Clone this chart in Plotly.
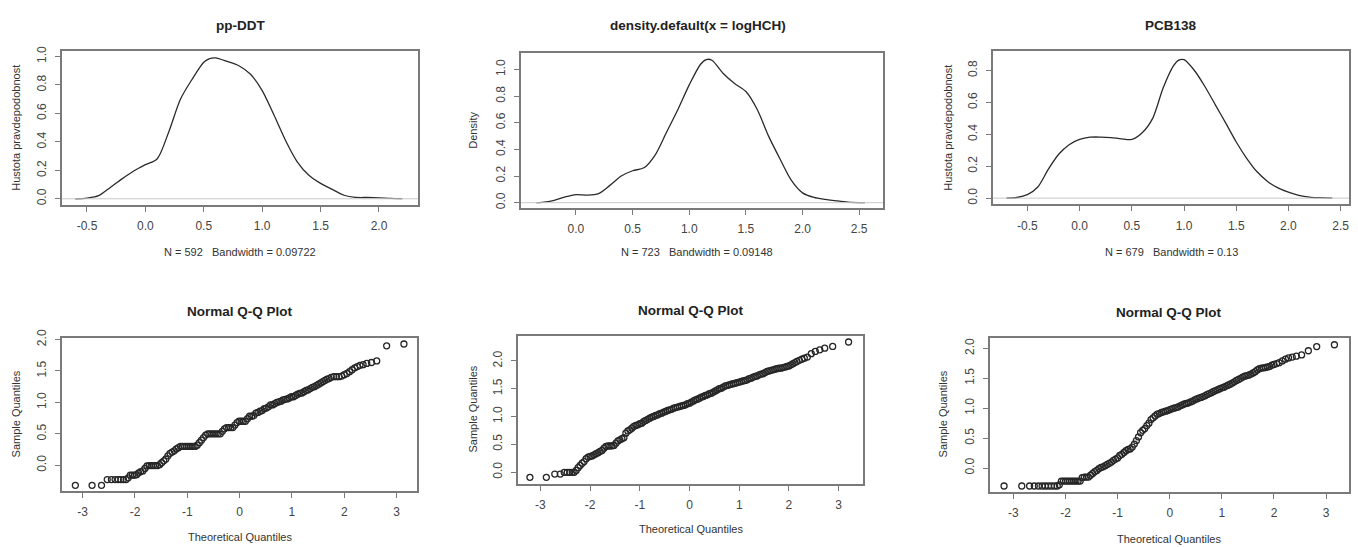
import plotly.graph_objects as go

W, H = 1358, 547

# ---------------- data ----------------
# density curves
ddt_x = [-0.6, -0.5, -0.4, -0.3, -0.2, -0.1, 0.0, 0.1, 0.2, 0.3, 0.4, 0.5, 0.55, 0.6, 0.7, 0.8, 0.9, 1.0,
         1.1, 1.2, 1.3, 1.4, 1.5, 1.6, 1.7, 1.8, 1.9, 2.0, 2.1, 2.2]
ddt_y = [0.0, 0.005, 0.022, 0.08, 0.14, 0.195, 0.24, 0.28, 0.47, 0.70, 0.84, 0.96, 0.985, 0.99, 0.965, 0.935,
         0.875, 0.76, 0.59, 0.41, 0.26, 0.165, 0.108, 0.066, 0.025, 0.01, 0.009, 0.007, 0.003, 0.001]

hch_x = [-0.35, -0.3, -0.2, -0.1, 0.0, 0.1, 0.2, 0.3, 0.4, 0.5, 0.6, 0.7, 0.8, 0.9, 1.0, 1.1, 1.15, 1.2, 1.3,
         1.4, 1.5, 1.6, 1.7, 1.8, 1.9, 2.0, 2.1, 2.2, 2.3, 2.4, 2.55]
hch_y = [0.0, 0.002, 0.015, 0.042, 0.061, 0.057, 0.068, 0.13, 0.20, 0.24, 0.262, 0.36, 0.53, 0.70, 0.885,
         1.04, 1.075, 1.07, 0.97, 0.895, 0.835, 0.70, 0.50, 0.33, 0.17, 0.074, 0.04, 0.025, 0.014, 0.005, 0.0]

pcb_x = [-0.7, -0.6, -0.5, -0.4, -0.3, -0.2, -0.1, 0.0, 0.1, 0.2, 0.3, 0.4, 0.5, 0.6, 0.7, 0.8, 0.9, 0.95,
         1.0, 1.1, 1.2, 1.3, 1.4, 1.5, 1.6, 1.7, 1.8, 1.9, 2.0, 2.1, 2.2, 2.3, 2.42]
pcb_y = [0.0, 0.004, 0.022, 0.07, 0.18, 0.275, 0.335, 0.368, 0.382, 0.383, 0.38, 0.372, 0.368, 0.41, 0.50,
         0.69, 0.83, 0.865, 0.868, 0.80, 0.70, 0.585, 0.47, 0.352, 0.25, 0.165, 0.105, 0.064, 0.037, 0.018,
         0.007, 0.003, 0.0]

# Q-Q plots: theoretical quantile, sample quantile
qq1_x = [-3.14, -2.82, -2.64, -2.53, -2.45, -2.38, -2.32, -2.27, -2.22, -2.17, -2.13, -2.09, -2.05, -2.01,
         -1.97, -1.93, -1.89, -1.85, -1.81, -1.77, -1.73, -1.69, -1.65, -1.61, -1.57, -1.53, -1.49, -1.45,
         -1.41, -1.37, -1.33, -1.29, -1.25, -1.21, -1.17, -1.13, -1.09, -1.05, -1.01, -0.97, -0.93, -0.89,
         -0.85, -0.81, -0.77, -0.73, -0.69, -0.65, -0.61, -0.57, -0.53, -0.49, -0.45, -0.41, -0.37, -0.33,
         -0.29, -0.25, -0.21, -0.17, -0.13, -0.09, -0.05, -0.01, 0.03, 0.07, 0.11, 0.15, 0.19, 0.23, 0.27,
         0.31, 0.35, 0.39, 0.43, 0.47, 0.51, 0.55, 0.59, 0.63, 0.67, 0.71, 0.75, 0.79, 0.83, 0.87, 0.91,
         0.95, 0.99, 1.03, 1.07, 1.11, 1.15, 1.19, 1.23, 1.27, 1.31, 1.35, 1.39, 1.43, 1.47, 1.51, 1.55,
         1.59, 1.63, 1.67, 1.71, 1.75, 1.80, 1.85, 1.90, 1.95, 2.00, 2.05, 2.10, 2.15, 2.20, 2.25, 2.30,
         2.36, 2.43, 2.52, 2.62, 2.81, 3.14]
qq1_y = [-0.32, -0.32, -0.32, -0.227, -0.227, -0.227, -0.227, -0.227, -0.227, -0.227, -0.20, -0.158,
         -0.158, -0.158, -0.15, -0.12, -0.10, -0.09, -0.05, -0.01, -0.005, -0.005, -0.005, -0.005, -0.005,
         0.01, 0.04, 0.07, 0.10, 0.15, 0.19, 0.21, 0.23, 0.26, 0.28, 0.30, 0.30, 0.30, 0.30, 0.30, 0.30,
         0.30, 0.30, 0.32, 0.36, 0.40, 0.44, 0.48, 0.50, 0.50, 0.50, 0.50, 0.50, 0.50, 0.50, 0.54, 0.58,
         0.60, 0.60, 0.60, 0.60, 0.64, 0.68, 0.70, 0.70, 0.70, 0.70, 0.74, 0.78, 0.78, 0.79, 0.83, 0.84,
         0.86, 0.87, 0.90, 0.91, 0.93, 0.96, 0.96, 0.98, 1.00, 1.01, 1.02, 1.04, 1.05, 1.055, 1.07, 1.09,
         1.09, 1.11, 1.13, 1.145, 1.15, 1.17, 1.19, 1.20, 1.22, 1.24, 1.25, 1.27, 1.29, 1.31, 1.33, 1.35,
         1.37, 1.38, 1.40, 1.41, 1.41, 1.41, 1.42, 1.44, 1.46, 1.49, 1.52, 1.55, 1.57, 1.59, 1.60, 1.62,
         1.635, 1.66, 1.90, 1.93]

qq2_x = [-3.21, -2.88, -2.71, -2.60, -2.52, -2.46, -2.41, -2.36, -2.32, -2.28, -2.24, -2.20, -2.16, -2.12,
         -2.08, -2.04, -2.00, -1.96, -1.92, -1.88, -1.84, -1.80, -1.76, -1.72, -1.68, -1.64, -1.60, -1.56,
         -1.52, -1.48, -1.44, -1.40, -1.36, -1.32, -1.28, -1.24, -1.20, -1.16, -1.12, -1.08, -1.04, -1.00,
         -0.96, -0.92, -0.88, -0.84, -0.80, -0.76, -0.72, -0.68, -0.64, -0.60, -0.56, -0.52, -0.48, -0.44,
         -0.40, -0.36, -0.32, -0.28, -0.24, -0.20, -0.16, -0.12, -0.08, -0.04, 0.00, 0.04, 0.08, 0.12,
         0.16, 0.20, 0.24, 0.28, 0.32, 0.36, 0.40, 0.44, 0.48, 0.52, 0.56, 0.60, 0.64, 0.68, 0.72, 0.76,
         0.80, 0.84, 0.88, 0.92, 0.96, 1.00, 1.04, 1.08, 1.12, 1.16, 1.20, 1.24, 1.28, 1.32, 1.36, 1.40,
         1.44, 1.48, 1.52, 1.56, 1.60, 1.64, 1.68, 1.72, 1.76, 1.80, 1.84, 1.88, 1.92, 1.96, 2.00, 2.04,
         2.08, 2.12, 2.16, 2.21, 2.26, 2.31, 2.37, 2.45, 2.53, 2.62, 2.72, 2.88, 3.20]
qq2_y = [-0.094, -0.094, -0.035, -0.035, -0.005, -0.005, -0.005, -0.005, -0.005, 0.03, 0.08, 0.12, 0.16,
         0.19, 0.24, 0.27, 0.28, 0.29, 0.31, 0.33, 0.35, 0.37, 0.39, 0.43, 0.46, 0.47, 0.47, 0.47, 0.48,
         0.52, 0.56, 0.58, 0.60, 0.62, 0.70, 0.74, 0.76, 0.79, 0.82, 0.84, 0.85, 0.87, 0.88, 0.91, 0.93,
         0.95, 0.97, 0.99, 1.00, 1.02, 1.03, 1.05, 1.06, 1.08, 1.09, 1.11, 1.12, 1.13, 1.15, 1.16, 1.17,
         1.18, 1.19, 1.20, 1.21, 1.23, 1.24, 1.26, 1.28, 1.30, 1.31, 1.33, 1.35, 1.36, 1.38, 1.39, 1.41,
         1.42, 1.44, 1.46, 1.48, 1.50, 1.51, 1.53, 1.55, 1.56, 1.57, 1.58, 1.59, 1.60, 1.61, 1.62, 1.63,
         1.64, 1.65, 1.66, 1.68, 1.69, 1.71, 1.72, 1.73, 1.75, 1.76, 1.77, 1.79, 1.81, 1.82, 1.83, 1.84,
         1.85, 1.86, 1.87, 1.87, 1.88, 1.89, 1.90, 1.91, 1.93, 1.95, 1.97, 1.99, 2.01, 2.03, 2.05, 2.07,
         2.13, 2.17, 2.20, 2.23, 2.26, 2.34]

qq3_x = [-3.18, -2.84, -2.69, -2.60, -2.52, -2.45, -2.39, -2.33, -2.27, -2.21, -2.16, -2.12, -2.08, -2.04,
         -2.00, -1.96, -1.92, -1.88, -1.84, -1.80, -1.76, -1.72, -1.68, -1.64, -1.60, -1.56, -1.52, -1.48,
         -1.44, -1.40, -1.36, -1.32, -1.28, -1.24, -1.20, -1.16, -1.12, -1.08, -1.04, -1.00, -0.96, -0.92,
         -0.88, -0.84, -0.80, -0.76, -0.72, -0.68, -0.64, -0.60, -0.56, -0.52, -0.48, -0.44, -0.40, -0.36,
         -0.32, -0.28, -0.24, -0.20, -0.16, -0.12, -0.08, -0.04, 0.00, 0.04, 0.08, 0.12, 0.16, 0.20, 0.24,
         0.28, 0.32, 0.36, 0.40, 0.44, 0.48, 0.52, 0.56, 0.60, 0.64, 0.68, 0.72, 0.76, 0.80, 0.84, 0.88,
         0.92, 0.96, 1.00, 1.04, 1.08, 1.12, 1.16, 1.20, 1.24, 1.28, 1.32, 1.36, 1.40, 1.44, 1.48, 1.52,
         1.56, 1.60, 1.64, 1.68, 1.72, 1.76, 1.80, 1.84, 1.88, 1.92, 1.96, 2.00, 2.05, 2.10, 2.16, 2.22,
         2.28, 2.35, 2.43, 2.53, 2.66, 2.82, 3.16]
qq3_y = [-0.30, -0.30, -0.30, -0.30, -0.30, -0.30, -0.30, -0.30, -0.30, -0.30, -0.30, -0.28, -0.217,
         -0.217, -0.217, -0.217, -0.217, -0.217, -0.217, -0.217, -0.217, -0.217, -0.16, -0.15, -0.15,
         -0.15, -0.12, -0.09, -0.06, -0.04, -0.01, 0.01, 0.02, 0.04, 0.06, 0.08, 0.10, 0.13, 0.15, 0.17,
         0.21, 0.23, 0.26, 0.29, 0.31, 0.32, 0.35, 0.40, 0.46, 0.52, 0.59, 0.63, 0.66, 0.71, 0.75, 0.81,
         0.84, 0.87, 0.90, 0.91, 0.93, 0.94, 0.95, 0.96, 0.975, 0.99, 1.00, 1.01, 1.02, 1.04, 1.055, 1.07,
         1.08, 1.09, 1.105, 1.12, 1.14, 1.155, 1.17, 1.18, 1.195, 1.21, 1.23, 1.245, 1.26, 1.28, 1.295,
         1.31, 1.325, 1.34, 1.35, 1.37, 1.385, 1.40, 1.42, 1.44, 1.465, 1.48, 1.50, 1.52, 1.535, 1.545,
         1.555, 1.57, 1.59, 1.61, 1.64, 1.66, 1.67, 1.675, 1.68, 1.69, 1.70, 1.72, 1.73, 1.745, 1.76, 1.79,
         1.82, 1.84, 1.855, 1.87, 1.89, 1.96, 2.03, 2.06]

# titles / labels
titles = ["pp-DDT", "density.default(x = logHCH)", "PCB138",
          "Normal Q-Q Plot", "Normal Q-Q Plot", "Normal Q-Q Plot"]
xlabels = ["N = 592   Bandwidth = 0.09722", "N = 723   Bandwidth = 0.09148",
           "N = 679   Bandwidth = 0.13",
           "Theoretical Quantiles", "Theoretical Quantiles", "Theoretical Quantiles"]
ylabels = ["Hustota pravdepodobnost", "Density", "Hustota pravdepodobnost",
           "Sample Quantiles", "Sample Quantiles", "Sample Quantiles"]

dens_x_ticks = [[-0.5, 0.0, 0.5, 1.0, 1.5, 2.0],
                [0.0, 0.5, 1.0, 1.5, 2.0, 2.5],
                [-0.5, 0.0, 0.5, 1.0, 1.5, 2.0, 2.5]]
dens_y_ticks = [[0.0, 0.2, 0.4, 0.6, 0.8, 1.0],
                [0.0, 0.2, 0.4, 0.6, 0.8, 1.0],
                [0.0, 0.2, 0.4, 0.6, 0.8]]
qq_x_ticks = [-3, -2, -1, 0, 1, 2, 3]
qq_y_ticks = [0.0, 0.5, 1.0, 1.5, 2.0]

# ---------------- layout geometry (pixels) ----------------
boxes = [(62, 418, 43, 200), (521, 883, 45, 203), (993, 1349, 43, 199),
         (62, 417, 335, 491), (518, 863, 333, 484), (990, 1349, 335, 492)]
xranges = [[-0.714, 2.334], [-0.485, 2.71], [-0.829, 2.58],
           [-3.395, 3.39], [-3.45, 3.49], [-3.45, 3.44]]
yranges = [[-0.046, 1.037], [-0.042, 1.123], [-0.039, 0.921],
           [-0.41, 2.027], [-0.217, 2.45], [-0.40, 2.175]]
title_pos = [(240, 17), (698, 17), (1171, 17), (240, 308), (691, 307), (1169, 309)]
xlab_pos = [(240, 248), (697, 248), (1171, 248), (240, 538), (691, 530), (1169, 540)]
ylab_pos = [(16, 121), (473, 124), (948, 121), (16, 413), (473, 408), (943, 413)]

FONT = "Liberation Sans, Arial, sans-serif"
TXT = "#333333"
AX = "#7a7a7a"


def fmt(v, dec):
    s = f"{v:.{dec}f}"
    return s.replace("\u2212", "-")


fig = go.Figure()

dens = [(ddt_x, ddt_y), (hch_x, hch_y), (pcb_x, pcb_y)]
qqs = [(qq1_x, qq1_y), (qq2_x, qq2_y), (qq3_x, qq3_y)]

layout_axes = {}
annotations = []
shapes = []
for i in range(6):
    n = i + 1
    xa = "x" if n == 1 else f"x{n}"
    ya = "y" if n == 1 else f"y{n}"
    l, r, t, b = boxes[i]
    if i < 3:
        dx, dy = dens[i]
        fig.add_trace(go.Scatter(x=dx, y=dy, mode="lines", xaxis=xa, yaxis=ya,
                                 line=dict(color="#2b2b2b", width=1.3, shape="spline", smoothing=0.8),
                                 showlegend=False, hoverinfo="skip"))
        xt = dens_x_ticks[i]
        yt = dens_y_ticks[i]
        xtt = [fmt(v, 1) for v in xt]
        ytt = [fmt(v, 1) for v in yt]
        shapes.append(dict(type="line", xref=f"{xa} domain", yref=ya, x0=0, x1=1, y0=0, y1=0,
                           line=dict(color="#c8c8c8", width=1)))
    else:
        qx, qy = qqs[i - 3]
        fig.add_trace(go.Scatter(x=qx, y=qy, mode="markers", xaxis=xa, yaxis=ya,
                                 marker=dict(symbol="circle-open", size=6, color="#262626",
                                             line=dict(width=1.3, color="#262626")),
                                 showlegend=False, hoverinfo="skip"))
        xt = qq_x_ticks
        yt = qq_y_ticks
        xtt = [str(v) for v in xt]
        ytt = [fmt(v, 1) for v in yt]

    axis_common = dict(showline=True, linecolor=AX, linewidth=1.5, mirror=True,
                       ticks="outside", ticklen=5, tickwidth=1, tickcolor=AX,
                       showgrid=False, zeroline=False, fixedrange=True,
                       tickfont=dict(family=FONT, size=12, color="#444444"))
    layout_axes["xaxis" if n == 1 else f"xaxis{n}"] = dict(
        domain=[l / W, r / W], range=xranges[i], anchor=ya,
        tickvals=xt, ticktext=xtt, ticklabelstandoff=4, **axis_common)
    layout_axes["yaxis" if n == 1 else f"yaxis{n}"] = dict(
        domain=[1 - b / H, 1 - t / H], range=yranges[i], anchor=xa,
        tickvals=yt, ticktext=ytt, tickangle=-90, ticklabelstandoff=4, **axis_common)

    tx, ty = title_pos[i]
    annotations.append(dict(text=f"<b>{titles[i]}</b>", x=tx / W, y=1 - ty / H, xref="paper", yref="paper",
                            showarrow=False, xanchor="center", yanchor="middle",
                            font=dict(family=FONT, size=13.5, color="#222222")))
    lx, ly = xlab_pos[i]
    annotations.append(dict(text=xlabels[i].replace(" ", "&nbsp;"), x=lx / W, y=1 - ly / H,
                            xref="paper", yref="paper",
                            showarrow=False, xanchor="center", yanchor="middle",
                            font=dict(family=FONT, size=11, color=TXT)))
    yx, yy = ylab_pos[i]
    annotations.append(dict(text=ylabels[i], x=yx / W, y=1 - yy / H, xref="paper", yref="paper",
                            showarrow=False, xanchor="center", yanchor="middle", textangle=-90,
                            font=dict(family=FONT, size=11, color=TXT)))

fig.update_layout(width=W, height=H, margin=dict(l=0, r=0, t=0, b=0),
                  paper_bgcolor="white", plot_bgcolor="white",
                  annotations=annotations, shapes=shapes, **layout_axes)

fig.write_html("out.html", config={"displayModeBar": False})
